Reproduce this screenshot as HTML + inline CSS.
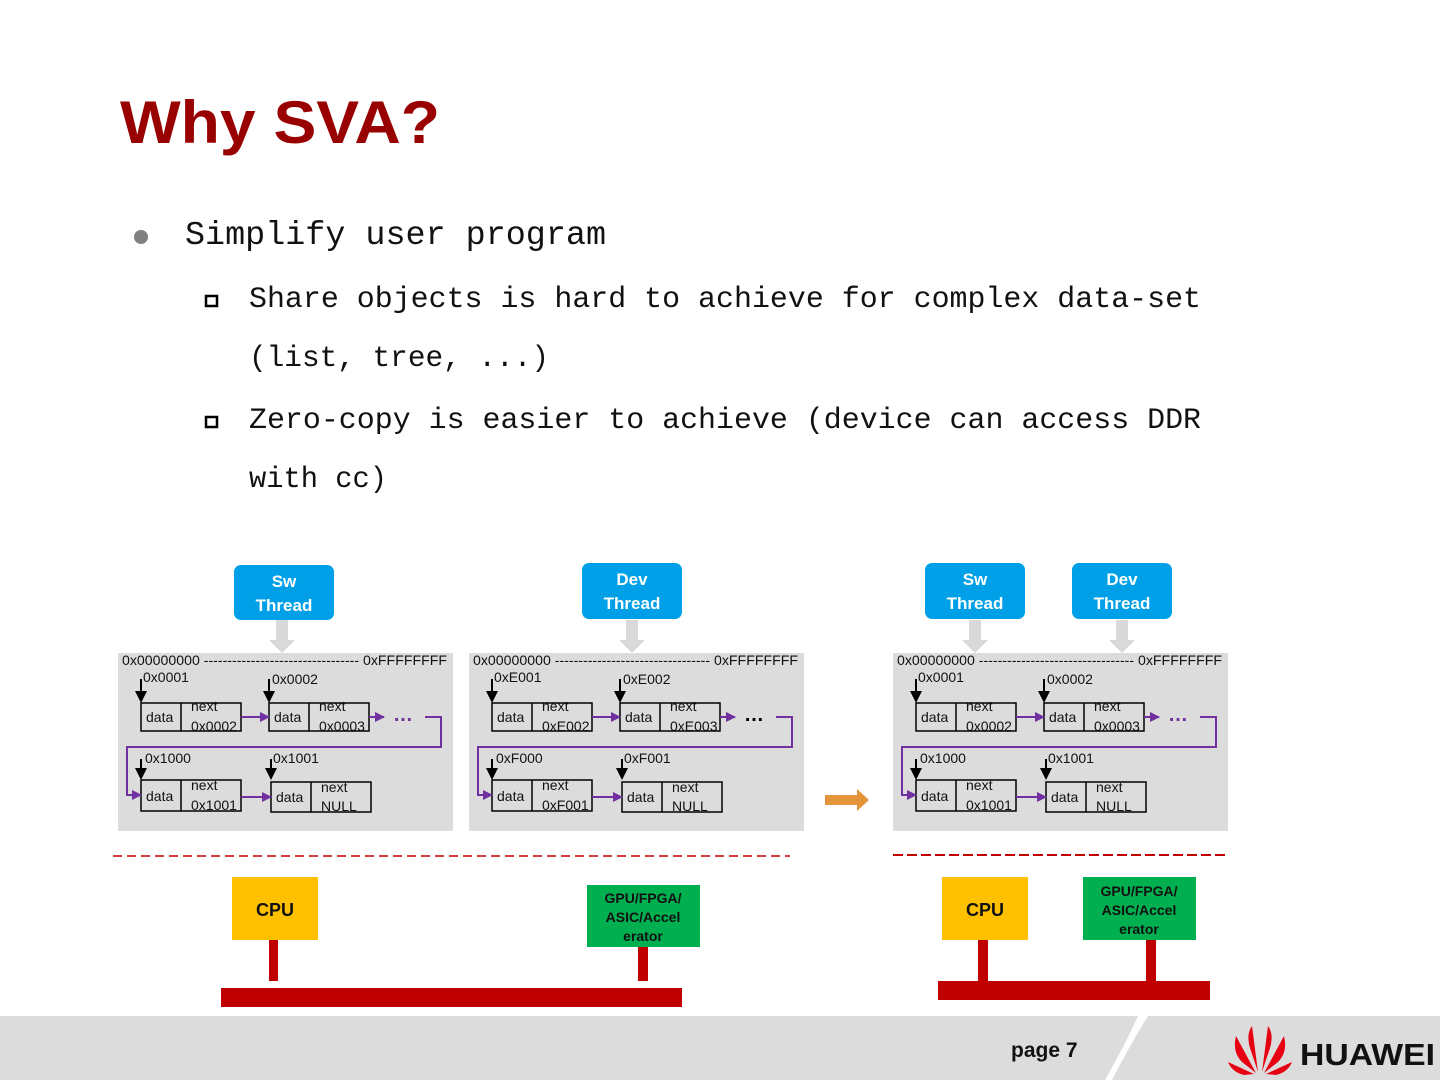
<!DOCTYPE html>
<html><head><meta charset="utf-8"><style>
html,body{margin:0;padding:0;background:#fff;}
svg{display:block}
.m{font-family:"Liberation Mono",monospace;fill:#111}
.s{font-family:"Liberation Sans",sans-serif}
.p{font-family:"Liberation Sans",sans-serif;font-size:14px;fill:#111}
</style></head><body>
<svg width="1440" height="1080" viewBox="0 0 1440 1080" xmlns="http://www.w3.org/2000/svg">
<defs>
<marker id="pa" markerWidth="10" markerHeight="10" refX="9" refY="5" orient="auto" markerUnits="userSpaceOnUse"><path d="M0,0 L10,5 L0,10 z" fill="#7030a0"/></marker>
</defs>
<text x="120" y="143" class="s" font-size="60" font-weight="bold" fill="#990000" textLength="320" lengthAdjust="spacingAndGlyphs">Why SVA?</text>
<circle cx="141" cy="237" r="7" fill="#808080"/>
<text x="185" y="244" class="m" font-size="33" textLength="421" lengthAdjust="spacingAndGlyphs">Simplify user program</text>
<rect x="206" y="296" width="11" height="10" fill="none" stroke="#000" stroke-width="2.5"/>
<text x="249" y="307" class="m" font-size="30" textLength="952" lengthAdjust="spacingAndGlyphs">Share objects is hard to achieve for complex data-set</text>
<text x="249" y="366" class="m" font-size="30" textLength="300" lengthAdjust="spacingAndGlyphs">(list, tree, ...)</text>
<rect x="206" y="417" width="11" height="10" fill="none" stroke="#000" stroke-width="2.5"/>
<text x="249" y="428" class="m" font-size="30" textLength="952" lengthAdjust="spacingAndGlyphs">Zero-copy is easier to achieve (device can access DDR</text>
<text x="249" y="487" class="m" font-size="30" textLength="138" lengthAdjust="spacingAndGlyphs">with cc)</text>

<g class="s" font-size="17" font-weight="bold" fill="#fff" text-anchor="middle">
<rect x="234" y="565" width="100" height="55" rx="7" fill="#00a0e9"/><text x="284" y="587">Sw</text><text x="284" y="611">Thread</text>
<rect x="582" y="563" width="100" height="56" rx="7" fill="#00a0e9"/><text x="632" y="585">Dev</text><text x="632" y="609">Thread</text>
<rect x="925" y="563" width="100" height="56" rx="7" fill="#00a0e9"/><text x="975" y="585">Sw</text><text x="975" y="609">Thread</text>
<rect x="1072" y="563" width="100" height="56" rx="7" fill="#00a0e9"/><text x="1122" y="585">Dev</text><text x="1122" y="609">Thread</text>
</g>
<g fill="#d9d9d9">
<path d="M276,620 h12 v20 h7 l-13,13 l-13,-13 h7z"/>
<path d="M626,620 h12 v20 h7 l-13,13 l-13,-13 h7z"/>
<path d="M969,620 h12 v20 h7 l-13,13 l-13,-13 h7z"/>
<path d="M1116,620 h12 v20 h7 l-13,13 l-13,-13 h7z"/>
</g>

<g transform="translate(118,653)">
<rect width="335" height="178" fill="#dcdcdc"/>
<text x="4" y="12" class="p" font-size="13" textLength="325" lengthAdjust="spacingAndGlyphs">0x00000000 --------------------------------- 0xFFFFFFFF</text>
<g stroke="#000" stroke-width="2" fill="none"><line x1="23" y1="26" x2="23" y2="42"/><line x1="151" y1="26" x2="151" y2="42"/><line x1="23" y1="106" x2="23" y2="119"/><line x1="153" y1="106" x2="153" y2="119"/></g>
<g fill="#000"><path d="M17,38 h12 l-6,12z"/><path d="M145,38 h12 l-6,12z"/><path d="M17,115 h12 l-6,12z"/><path d="M147,115 h12 l-6,12z"/></g>
<g stroke="#000" stroke-width="1.5" fill="none"><rect x="23" y="50" width="100" height="28"/><line x1="63" y1="50" x2="63" y2="78"/><rect x="151" y="50" width="100" height="28"/><line x1="191" y1="50" x2="191" y2="78"/><rect x="23" y="127" width="100" height="31"/><line x1="63" y1="127" x2="63" y2="158"/><rect x="153" y="129" width="100" height="30"/><line x1="193" y1="129" x2="193" y2="159"/></g>
<g stroke="#7030a0" stroke-width="2" fill="none"><line x1="123" y1="64" x2="151" y2="64" marker-end="url(#pa)"/><line x1="251" y1="64" x2="266" y2="64" marker-end="url(#pa)"/><polyline points="307,64 323,64 323,94 9,94 9,142 23,142" marker-end="url(#pa)"/><line x1="123" y1="144" x2="153" y2="144" marker-end="url(#pa)"/></g>
<text x="275" y="68" font-size="20" font-weight="bold" fill="#7030a0" class="s">…</text>
<text x="25" y="29" class="p">0x0001</text><text x="154" y="31" class="p">0x0002</text>
<text x="27" y="110" class="p">0x1000</text><text x="155" y="110" class="p">0x1001</text>
<text x="28" y="69" class="p">data</text><text x="73" y="58" class="p">next</text><text x="73" y="78" class="p">0x0002</text>
<text x="156" y="69" class="p">data</text><text x="201" y="58" class="p">next</text><text x="201" y="78" class="p">0x0003</text>
<text x="28" y="148" class="p">data</text><text x="73" y="137" class="p">next</text><text x="73" y="157" class="p">0x1001</text>
<text x="158" y="149" class="p">data</text><text x="203" y="139" class="p">next</text><text x="203" y="158" class="p">NULL</text>
</g>

<g transform="translate(469,653)">
<rect width="335" height="178" fill="#dcdcdc"/>
<text x="4" y="12" class="p" font-size="13" textLength="325" lengthAdjust="spacingAndGlyphs">0x00000000 --------------------------------- 0xFFFFFFFF</text>
<g stroke="#000" stroke-width="2" fill="none"><line x1="23" y1="26" x2="23" y2="42"/><line x1="151" y1="26" x2="151" y2="42"/><line x1="23" y1="106" x2="23" y2="119"/><line x1="153" y1="106" x2="153" y2="119"/></g>
<g fill="#000"><path d="M17,38 h12 l-6,12z"/><path d="M145,38 h12 l-6,12z"/><path d="M17,115 h12 l-6,12z"/><path d="M147,115 h12 l-6,12z"/></g>
<g stroke="#000" stroke-width="1.5" fill="none"><rect x="23" y="50" width="100" height="28"/><line x1="63" y1="50" x2="63" y2="78"/><rect x="151" y="50" width="100" height="28"/><line x1="191" y1="50" x2="191" y2="78"/><rect x="23" y="127" width="100" height="31"/><line x1="63" y1="127" x2="63" y2="158"/><rect x="153" y="129" width="100" height="30"/><line x1="193" y1="129" x2="193" y2="159"/></g>
<g stroke="#7030a0" stroke-width="2" fill="none"><line x1="123" y1="64" x2="151" y2="64" marker-end="url(#pa)"/><line x1="251" y1="64" x2="266" y2="64" marker-end="url(#pa)"/><polyline points="307,64 323,64 323,94 9,94 9,142 23,142" marker-end="url(#pa)"/><line x1="123" y1="144" x2="153" y2="144" marker-end="url(#pa)"/></g>
<text x="275" y="68" font-size="20" font-weight="bold" fill="#000" class="s">…</text>
<text x="25" y="29" class="p">0xE001</text><text x="154" y="31" class="p">0xE002</text>
<text x="27" y="110" class="p">0xF000</text><text x="155" y="110" class="p">0xF001</text>
<text x="28" y="69" class="p">data</text><text x="73" y="58" class="p">next</text><text x="73" y="78" class="p">0xE002</text>
<text x="156" y="69" class="p">data</text><text x="201" y="58" class="p">next</text><text x="201" y="78" class="p">0xE003</text>
<text x="28" y="148" class="p">data</text><text x="73" y="137" class="p">next</text><text x="73" y="157" class="p">0xF001</text>
<text x="158" y="149" class="p">data</text><text x="203" y="139" class="p">next</text><text x="203" y="158" class="p">NULL</text>
</g>

<g transform="translate(893,653)">
<rect width="335" height="178" fill="#dcdcdc"/>
<text x="4" y="12" class="p" font-size="13" textLength="325" lengthAdjust="spacingAndGlyphs">0x00000000 --------------------------------- 0xFFFFFFFF</text>
<g stroke="#000" stroke-width="2" fill="none"><line x1="23" y1="26" x2="23" y2="42"/><line x1="151" y1="26" x2="151" y2="42"/><line x1="23" y1="106" x2="23" y2="119"/><line x1="153" y1="106" x2="153" y2="119"/></g>
<g fill="#000"><path d="M17,38 h12 l-6,12z"/><path d="M145,38 h12 l-6,12z"/><path d="M17,115 h12 l-6,12z"/><path d="M147,115 h12 l-6,12z"/></g>
<g stroke="#000" stroke-width="1.5" fill="none"><rect x="23" y="50" width="100" height="28"/><line x1="63" y1="50" x2="63" y2="78"/><rect x="151" y="50" width="100" height="28"/><line x1="191" y1="50" x2="191" y2="78"/><rect x="23" y="127" width="100" height="31"/><line x1="63" y1="127" x2="63" y2="158"/><rect x="153" y="129" width="100" height="30"/><line x1="193" y1="129" x2="193" y2="159"/></g>
<g stroke="#7030a0" stroke-width="2" fill="none"><line x1="123" y1="64" x2="151" y2="64" marker-end="url(#pa)"/><line x1="251" y1="64" x2="266" y2="64" marker-end="url(#pa)"/><polyline points="307,64 323,64 323,94 9,94 9,142 23,142" marker-end="url(#pa)"/><line x1="123" y1="144" x2="153" y2="144" marker-end="url(#pa)"/></g>
<text x="275" y="68" font-size="20" font-weight="bold" fill="#7030a0" class="s">…</text>
<text x="25" y="29" class="p">0x0001</text><text x="154" y="31" class="p">0x0002</text>
<text x="27" y="110" class="p">0x1000</text><text x="155" y="110" class="p">0x1001</text>
<text x="28" y="69" class="p">data</text><text x="73" y="58" class="p">next</text><text x="73" y="78" class="p">0x0002</text>
<text x="156" y="69" class="p">data</text><text x="201" y="58" class="p">next</text><text x="201" y="78" class="p">0x0003</text>
<text x="28" y="148" class="p">data</text><text x="73" y="137" class="p">next</text><text x="73" y="157" class="p">0x1001</text>
<text x="158" y="149" class="p">data</text><text x="203" y="139" class="p">next</text><text x="203" y="158" class="p">NULL</text>
</g>

<path d="M825,795 h32 v-6 l12,11 l-12,11 v-6 h-32z" fill="#e4953a"/>

<line x1="113" y1="856" x2="790" y2="856" stroke="#c00000" stroke-width="1.5" stroke-dasharray="9,5"/>
<line x1="893" y1="855" x2="1228" y2="855" stroke="#c00000" stroke-width="2" stroke-dasharray="10,4"/>

<g class="s" font-weight="bold" text-anchor="middle">
<rect x="232" y="877" width="86" height="63" fill="#ffc000"/><text x="275" y="916" font-size="18" fill="#111">CPU</text>
<rect x="587" y="885" width="113" height="62" fill="#00b050"/><text x="643" y="903" font-size="14" fill="#111">GPU/FPGA/</text><text x="643" y="922" font-size="14" fill="#111">ASIC/Accel</text><text x="643" y="941" font-size="14" fill="#111">erator</text>
<rect x="942" y="877" width="86" height="63" fill="#ffc000"/><text x="985" y="916" font-size="18" fill="#111">CPU</text>
<rect x="1083" y="877" width="113" height="63" fill="#00b050"/><text x="1139" y="896" font-size="14" fill="#111">GPU/FPGA/</text><text x="1139" y="915" font-size="14" fill="#111">ASIC/Accel</text><text x="1139" y="934" font-size="14" fill="#111">erator</text>
</g>
<g fill="#c00000">
<rect x="269" y="940" width="9" height="41"/><rect x="638" y="947" width="10" height="34"/><rect x="221" y="988" width="461" height="19"/>
<rect x="978" y="940" width="10" height="41"/><rect x="1146" y="940" width="10" height="41"/><rect x="938" y="981" width="272" height="19"/>
</g>

<rect x="0" y="1016" width="1440" height="64" fill="#dcdcdc"/>
<path d="M1138,1016 L1148,1016 Q1130,1045 1112,1080 L1105,1080 Q1125,1045 1138,1016z" fill="#fff"/>
<text x="1011" y="1057" class="s" font-size="21" font-weight="bold" fill="#111">page 7</text>
<g fill="#e60012" transform="translate(1260,1048)">
<path d="M-2,24 L-8,-22 Q-14,-14 -10,0z"/><path d="M2,24 L8,-22 Q14,-14 10,0z"/>
<path d="M-4,25 L-24,-12 Q-28,4 -18,14z"/><path d="M4,25 L24,-12 Q28,4 18,14z"/>
<path d="M-6,26 L-32,14 Q-28,24 -16,27z"/><path d="M6,26 L32,14 Q28,24 16,27z"/>
</g>
<text x="1300" y="1065" class="s" font-size="31" font-weight="bold" fill="#111" textLength="135" lengthAdjust="spacingAndGlyphs">HUAWEI</text>
</svg>
</body></html>
